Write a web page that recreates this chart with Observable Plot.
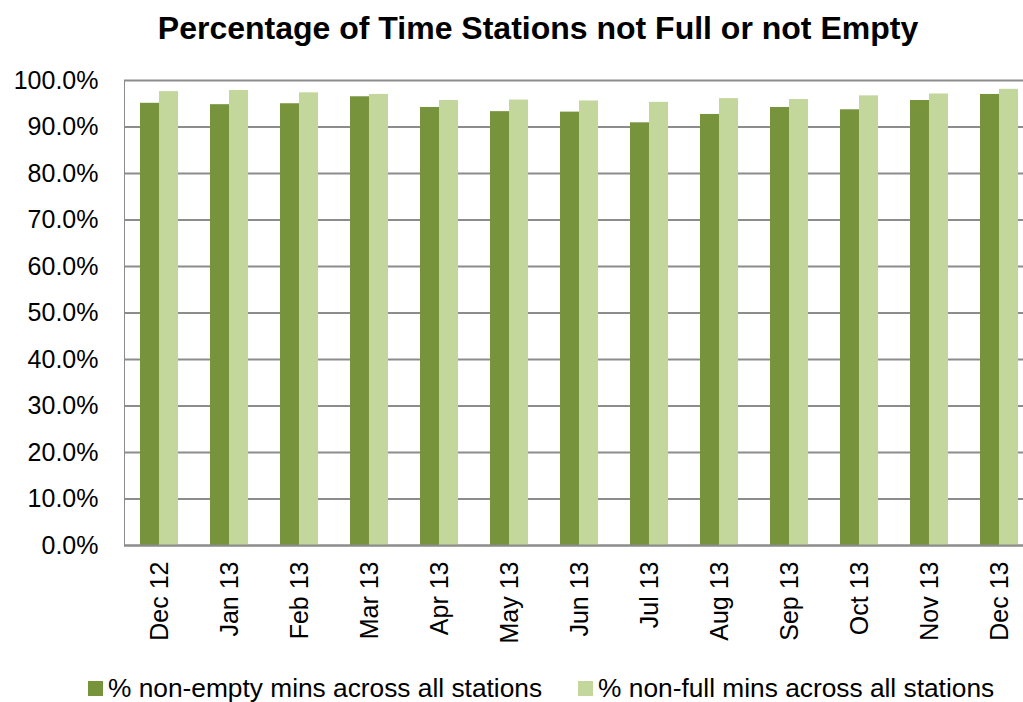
<!DOCTYPE html>
<html>
<head>
<meta charset="utf-8">
<script src="https://cdn.jsdelivr.net/npm/d3@7"></script>
<script src="https://cdn.jsdelivr.net/npm/@observablehq/plot@0.6"></script>
<style>
html, body { margin: 0; padding: 0; overflow: hidden; background: #fff; }
body { width: 1023px; height: 702px; position: relative; font-family: "Liberation Sans", Arial, sans-serif; }
#title { position: absolute; left: 38px; width: 1000px; top: 12px; text-align: center; font-size: 32px; line-height: 32px; font-weight: bold; color: #000; white-space: nowrap; }
#chart { position: absolute; left: 0; top: 60px; width: 1036px; }
#chart svg { max-width: none; }
#chart svg text { fill: #000; }
#legend { position: absolute; top: 675px; left: 88px; display: flex; align-items: center; font-size: 26.3px; line-height: 26px; white-space: nowrap; color: #000; }
.item { display: flex; align-items: center; }
.sw { width: 15px; height: 15px; display: inline-block; margin-right: 5px; }
</style>
</head>
<body>
<div id="title">Percentage of Time Stations not Full or not Empty</div>
<div id="chart"></div>
<div id="legend"></div>
<script>
const months = ["Dec 12", "Jan 13", "Feb 13", "Mar 13", "Apr 13", "May 13", "Jun 13", "Jul 13", "Aug 13", "Sep 13", "Oct 13", "Nov 13", "Dec 13"];
const nonEmpty = [95.1, 94.8, 95.0, 96.5, 94.2, 93.3, 93.2, 90.9, 92.7, 94.2, 93.7, 95.7, 97.0];
const nonFull = [97.6, 97.85, 97.35, 97.0, 95.7, 95.8, 95.6, 95.3, 96.1, 95.9, 96.7, 97.1, 98.1];
const seriesNames = ["% non-empty mins across all stations", "% non-full mins across all stations"];
const seriesColors = ["#77933C", "#C3D69B"];
const yTicks = [0, 10, 20, 30, 40, 50, 60, 70, 80, 90, 100];

const table = months.flatMap((m, i) => [
  {month: m, series: seriesNames[0], value: nonEmpty[i]},
  {month: m, series: seriesNames[1], value: nonFull[i]}
]);

const chart = Plot.plot({
  width: 1036,
  height: 610,
  marginTop: 20,
  marginBottom: 125,
  marginLeft: 123,
  marginRight: 1,
  style: {fontFamily: '"Liberation Sans", Arial, sans-serif', fontSize: "25px", color: "#8c8c8c", background: "#fff", maxWidth: "none"},
  fx: {domain: months, padding: 0, label: null, tickSize: 0, tickPadding: 16, tickRotate: -90},
  x: {domain: seriesNames, axis: null, paddingInner: 0, paddingOuter: 0.776},
  y: {domain: [0, 100], ticks: yTicks, tickFormat: d => d.toFixed(1) + "%", tickSize: 0, tickPadding: 26, label: null, line: true},
  color: {domain: seriesNames, range: seriesColors},
  marks: [
    Plot.ruleY(yTicks, {stroke: "#8c8c8c", strokeWidth: 2}),
    Plot.barY(table, {fx: "month", x: "series", y: "value", fill: "series"}),
    Plot.ruleY([0], {stroke: "#8c8c8c", strokeWidth: 2})
  ]
});
document.getElementById("chart").appendChild(chart);

const legend = document.getElementById("legend");
seriesNames.forEach((name, i) => {
  const item = document.createElement("div");
  item.className = "item";
  if (i > 0) item.style.marginLeft = "36px";
  const sw = document.createElement("span");
  sw.className = "sw";
  sw.style.background = seriesColors[i];
  const label = document.createElement("span");
  label.textContent = name;
  item.appendChild(sw);
  item.appendChild(label);
  legend.appendChild(item);
});
</script>
</body>
</html>
